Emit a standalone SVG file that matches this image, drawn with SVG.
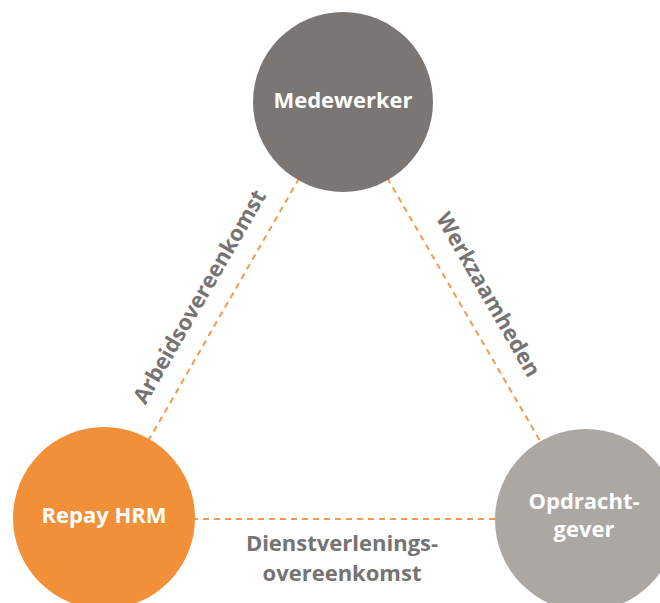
<svg xmlns="http://www.w3.org/2000/svg" width="660" height="603" viewBox="0 0 660 603">
<style>
.edge{stroke:#F19A4E;stroke-width:2;stroke-dasharray:6 5;fill:none}
.lbl{font-family:"Open Sans","Liberation Sans",sans-serif;font-weight:bold;font-size:22px;fill:#767472;text-anchor:middle}
.ntxt{font-family:"Open Sans","Liberation Sans",sans-serif;font-weight:bold;font-size:22px;fill:#FFFFFF;text-anchor:middle}
</style>
<rect width="660" height="603" fill="#FFFFFF"/>
<g id="connectors">
<line class="edge" x1="343" y1="102" x2="104" y2="518"/>
<line class="edge" x1="343" y1="102" x2="586" y2="520"/>
<line class="edge" x1="104" y1="519" x2="586" y2="519"/>
<text class="lbl" transform="translate(200,297) rotate(-60)" x="0" y="7">Arbeidsovereenkomst</text>
<text class="lbl" transform="translate(488,295) rotate(60)" x="0" y="7">Werkzaamheden</text>
<text class="lbl" x="342" y="551">Dienstverlenings-</text>
<text class="lbl" x="342" y="581">overeenkomst</text>
</g>
<g id="medewerker">
<circle cx="343" cy="102" r="90" fill="#7A7673"/>
<text class="ntxt" x="343" y="108">Medewerker</text>
</g>
<g id="repay-hrm">
<circle cx="104" cy="518" r="91" fill="#F29039"/>
<text class="ntxt" x="104" y="523">Repay HRM</text>
</g>
<g id="opdrachtgever">
<circle cx="586" cy="520" r="91" fill="#ABA7A3"/>
<text class="ntxt" x="584" y="509">Opdracht-</text>
<text class="ntxt" x="584" y="537">gever</text>
</g>
</svg>
